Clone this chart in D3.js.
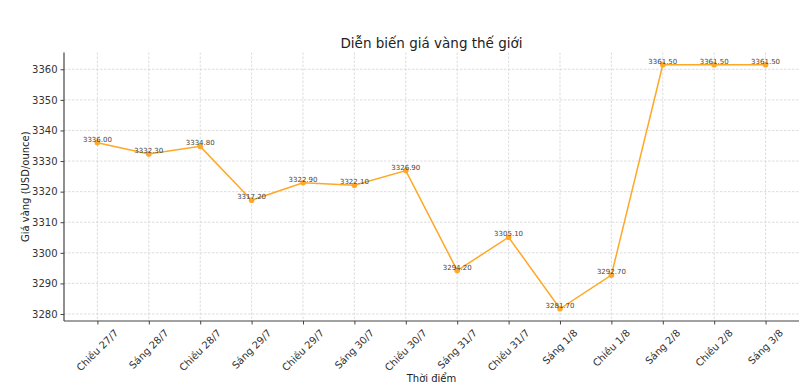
<!DOCTYPE html>
<html>
<head>
<meta charset="utf-8">
<script src="https://cdn.jsdelivr.net/npm/d3@7"></script>
<style>
  html, body { margin: 0; padding: 0; background: #fff; }
  svg { display: block; font-family: "DejaVu Sans", sans-serif; }
</style>
</head>
<body>
<svg id="chart" width="803" height="388"></svg>
<script>
const categories = ["Chiều 27/7","Sáng 28/7","Chiều 28/7","Sáng 29/7","Chiều 29/7","Sáng 30/7","Chiều 30/7","Sáng 31/7","Chiều 31/7","Sáng 1/8","Chiều 1/8","Sáng 2/8","Chiều 2/8","Sáng 3/8"];
const prices = [3336.00, 3332.30, 3334.80, 3317.20, 3322.90, 3322.10, 3326.90, 3294.20, 3305.10, 3281.70, 3292.70, 3361.50, 3361.50, 3361.50];
const yTicks = [3280, 3290, 3300, 3310, 3320, 3330, 3340, 3350, 3360];
const title = "Diễn biến giá vàng thế giới";
const xLabel = "Thời điểm";
const yLabel = "Giá vàng (USD/ounce)";

const svg = d3.select("#chart");
const L = 64, R = 799, T = 52.5, B = 321;

const n = categories.length;
const x = d3.scaleLinear().domain([-0.65, n - 1 + 0.65]).range([L, R]);
const ymin = d3.min(prices), ymax = d3.max(prices);
const pad = (ymax - ymin) * 0.05;
const y = d3.scaleLinear().domain([ymin - pad, ymax + pad]).range([B, T]);

// grid
const grid = svg.append("g");
grid.selectAll("line.gy").data(yTicks).join("line")
  .attr("x1", L).attr("x2", R)
  .attr("y1", d => y(d)).attr("y2", d => y(d))
  .attr("stroke", "#d4d4d4").attr("stroke-width", 0.8).attr("stroke-dasharray", "2.5,1.5");
grid.selectAll("line.gx").data(d3.range(n)).join("line")
  .attr("y1", T).attr("y2", B)
  .attr("x1", d => x(d)).attr("x2", d => x(d))
  .attr("stroke", "#d4d4d4").attr("stroke-width", 0.8).attr("stroke-dasharray", "2.5,1.5");

// y axis
const yAxis = svg.append("g").attr("transform", `translate(${L},0)`)
  .call(d3.axisLeft(y).tickValues(yTicks).tickSize(3.5).tickPadding(3).tickFormat(d3.format("d")));
yAxis.select(".domain").attr("stroke", "#444").attr("stroke-width", 1.2).attr("d", `M0,${T}V${B}`);
yAxis.selectAll(".tick line").attr("stroke", "#444");
yAxis.selectAll(".tick text").attr("fill", "#333").style("font-size", "10px").style("font-family", "DejaVu Sans");

// x axis
const xAxis = svg.append("g").attr("transform", `translate(0,${B})`)
  .call(d3.axisBottom(x).tickValues(d3.range(n)).tickSize(3.5).tickFormat(""));
xAxis.select(".domain").attr("stroke", "#444").attr("stroke-width", 1.2).attr("d", `M${L},0H${R}`);
xAxis.selectAll(".tick line").attr("stroke", "#444");

const xl = svg.append("g");
xl.selectAll("text").data(categories).join("text")
  .text(d => d)
  .attr("fill", "#333")
  .style("font-size", "10px")
  .attr("text-anchor", "middle")
  .attr("dy", "0.35em")
  .each(function(d, i) {
    const w = this.getComputedTextLength();
    const h = 10;
    const half = (w + h) / (2 * Math.SQRT2);
    d3.select(this).attr("transform", `translate(${x(i)},${B + 6.5 + half}) rotate(-45)`);
  });

// line
svg.append("path").datum(prices)
  .attr("fill", "none").attr("stroke", "#FFA726").attr("stroke-width", 1.5)
  .attr("d", d3.line().x((d, i) => x(i)).y(d => y(d)));
svg.selectAll("circle.pt").data(prices).join("circle")
  .attr("cx", (d, i) => x(i)).attr("cy", d => y(d)).attr("r", 2.8).attr("fill", "#FFA726");

// annotations
svg.selectAll("text.ann").data(prices).join("text")
  .attr("class", "ann")
  .attr("x", (d, i) => x(i)).attr("y", d => y(d) - 1)
  .attr("text-anchor", "middle")
  .attr("fill", "#444")
  .style("font-size", "7px")
  .text(d => d.toFixed(2));

// title & labels
svg.append("text").attr("x", (L + R) / 2).attr("y", 48).attr("text-anchor", "middle")
  .attr("fill", "#222").style("font-size", "13.5px").text(title);
svg.append("text").attr("x", (L + R) / 2).attr("y", 382).attr("text-anchor", "middle")
  .attr("fill", "#222").style("font-size", "10px").text(xLabel);
svg.append("text").attr("transform", `translate(29,${(T + B) / 2}) rotate(-90)`).attr("text-anchor", "middle")
  .attr("fill", "#222").style("font-size", "10px").text(yLabel);
</script>
</body>
</html>
